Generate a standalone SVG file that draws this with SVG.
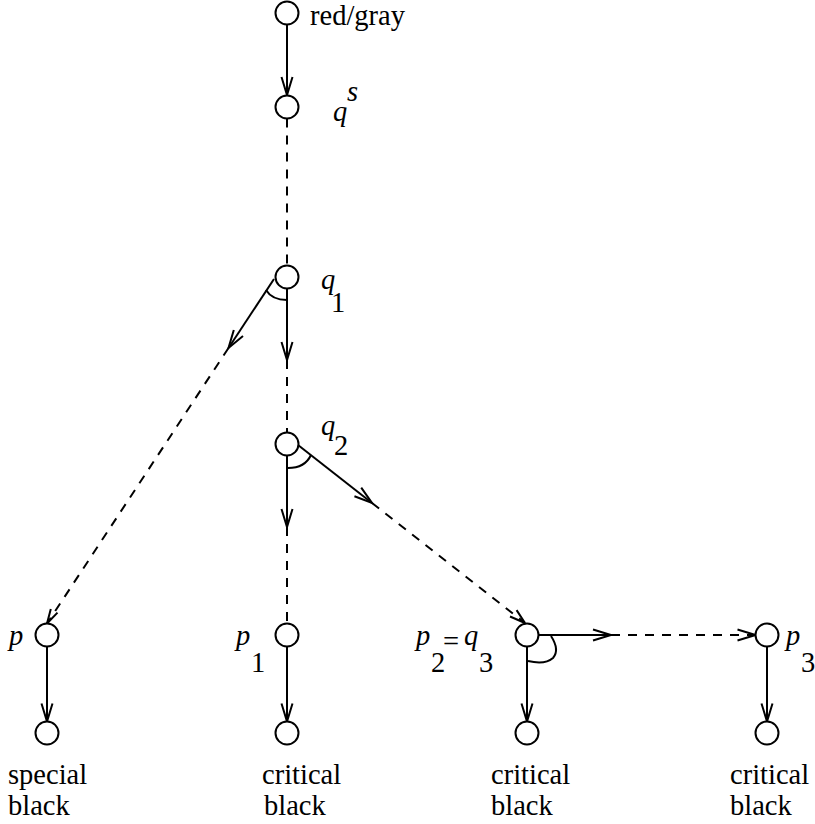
<svg xmlns="http://www.w3.org/2000/svg" width="815" height="824" viewBox="0 0 815 824">
<style>
.n{fill:#fff;stroke:#000;stroke-width:2}
.s{fill:none;stroke:#000;stroke-width:2}
.d{fill:none;stroke:#000;stroke-width:2;stroke-dasharray:9 8}
.a{marker-end:url(#ah)}
text{font-family:'Liberation Serif','Times New Roman','DejaVu Serif',serif;font-size:28.5px;fill:#000}
.i{font-style:italic}
</style>
<defs>
<marker id="ah" markerWidth="22" markerHeight="14" refX="18" refY="6" orient="auto" markerUnits="userSpaceOnUse" overflow="visible">
<path d="M0,0.5 L18,6 L0,11.5" fill="none" stroke="#000" stroke-width="2"/>
</marker>
</defs>
<g id="connectors">
<line class="s a" x1="287" y1="24.5" x2="287" y2="95"/>
<line class="d" x1="287" y1="118.5" x2="287" y2="265.5"/>
<line class="s a" x1="287" y1="288.5" x2="287" y2="360"/>
<line class="d" x1="287" y1="360" x2="287" y2="432.5"/>
<line class="s a" x1="274" y1="279" x2="228.5" y2="348"/>
<line class="d" x1="228.5" y1="348" x2="47" y2="623.5"/>
<path class="s" d="M266 290 Q272 300 287 300"/>
<line class="s a" x1="287" y1="455.5" x2="287" y2="527"/>
<line class="d" x1="287" y1="527" x2="287" y2="623.5"/>
<line class="s a" x1="298" y1="445" x2="372" y2="503"/>
<line class="d" x1="372" y1="503" x2="525" y2="623"/>
<path class="s" d="M288 468 Q305 468 311 455"/>
<line class="s a" x1="538.5" y1="635" x2="611" y2="635"/>
<line class="d" x1="611" y1="635" x2="755.5" y2="635"/>
<path class="s" d="M551 636 Q560 650 553 658 Q545 665 528 661"/>
<line class="s a" x1="47" y1="646.5" x2="47" y2="721.5"/>
<line class="s a" x1="287" y1="646.5" x2="287" y2="721.5"/>
<line class="s a" x1="527" y1="646.5" x2="527" y2="721.5"/>
<line class="s a" x1="767" y1="646.5" x2="767" y2="721.5"/>
<path class="s" d="M47 623.5 L57.5 612.6 M47 623.5 L50.8 608.9"/>
<path class="s" d="M525 623 L510 616.5 M525 623 L516.6 610.1"/>
<path class="s" d="M755.5 635 L737.5 629.5 M755.5 635 L737.5 640.5"/>
</g>
<g id="n_top"><circle class="n" cx="287" cy="13" r="11.5"/><text x="310" y="25">red/gray</text></g>
<g id="n_qs"><circle class="n" cx="287" cy="107" r="11.5"/><text class="i" x="333" y="121">q</text><text class="i" x="347" y="101">s</text></g>
<g id="n_q1"><circle class="n" cx="287" cy="277" r="11.5"/><text class="i" x="321" y="289">q</text><text x="331" y="312">1</text></g>
<g id="n_q2"><circle class="n" cx="287" cy="444" r="11.5"/><text class="i" x="321" y="435">q</text><text x="334" y="455">2</text></g>
<g id="n_p"><circle class="n" cx="47" cy="635" r="11.5"/><text class="i" x="9" y="645">p</text></g>
<g id="n_p1"><circle class="n" cx="287" cy="635" r="11.5"/><text class="i" x="236" y="645">p</text><text x="251" y="672">1</text></g>
<g id="n_p2"><circle class="n" cx="527" cy="635" r="11.5"/><text class="i" x="416" y="645">p</text><text x="431" y="672">2</text><text x="443" y="651">=</text><text class="i" x="464" y="645">q</text><text x="479" y="672">3</text></g>
<g id="n_p3"><circle class="n" cx="767" cy="635" r="11.5"/><text class="i" x="786" y="645">p</text><text x="801" y="672">3</text></g>
<g id="n_b0"><circle class="n" cx="47" cy="733" r="11.5"/><text x="8" y="784">special</text><text x="8" y="815">black</text></g>
<g id="n_b1"><circle class="n" cx="287" cy="733" r="11.5"/><text x="262" y="784">critical</text><text x="264" y="815">black</text></g>
<g id="n_b2"><circle class="n" cx="527" cy="733" r="11.5"/><text x="491" y="784">critical</text><text x="491" y="815">black</text></g>
<g id="n_b3"><circle class="n" cx="767" cy="733" r="11.5"/><text x="730" y="784">critical</text><text x="730" y="815">black</text></g>
</svg>
